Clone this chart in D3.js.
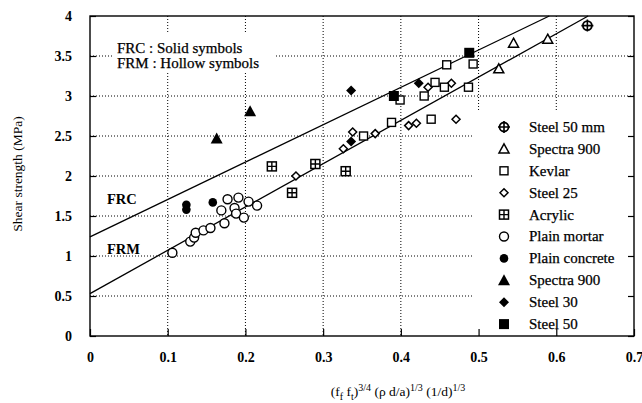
<!DOCTYPE html>
<html><head><meta charset="utf-8">
<script src="https://cdn.jsdelivr.net/npm/d3@7"></script>
<style>
body{margin:0;background:#fff;}
svg{display:block;}
</style></head>
<body><svg id="c" width="642" height="403" font-family="Liberation Serif"></svg>
<script>
// ---- data ----
const xTicks = [0,0.1,0.2,0.3,0.4,0.5,0.6,0.7];
const yTicks = [0,0.5,1,1.5,2,2.5,3,3.5,4];
const yTickLabels = ["0","0.5","1","1.5","2","2.5","3","3.5","4"];

const steel50mm = [[0.640,3.88]];
const spectraHollow = [[0.526,3.34],[0.545,3.66],[0.589,3.71]];
const kevlar = [[0.352,2.50],[0.388,2.67],[0.399,2.95],[0.430,3.00],[0.439,2.71],[0.444,3.17],[0.456,3.11],[0.459,3.39],[0.487,3.11],[0.493,3.40]];
const steel25 = [[0.265,2.00],[0.326,2.34],[0.338,2.55],[0.367,2.53],[0.410,2.63],[0.420,2.66],[0.435,3.11],[0.465,3.16],[0.471,2.71]];
const acrylic = [[0.234,2.12],[0.260,1.79],[0.290,2.15],[0.329,2.06]];
const plainMortar = [[0.106,1.04],[0.129,1.18],[0.134,1.23],[0.136,1.29],[0.146,1.32],[0.155,1.35],[0.173,1.41],[0.169,1.57],[0.177,1.71],[0.191,1.73],[0.186,1.60],[0.188,1.53],[0.198,1.48],[0.204,1.68],[0.215,1.63]];
const plainConcrete = [[0.124,1.64],[0.124,1.58],[0.158,1.67]];
const spectraSolid = [[0.163,2.47],[0.206,2.81]];
const steel30 = [[0.336,2.43],[0.336,3.07],[0.423,3.16]];
const steel50 = [[0.391,3.00],[0.488,3.54]];

const frcLine = [[0,1.24],[0.591,4]];
const frmLine = [[0,0.53],[0.641,4]];

const legendNames = ["Steel 50 mm","Spectra 900","Kevlar","Steel 25","Acrylic","Plain mortar","Plain concrete","Spectra 900","Steel 30","Steel 50"];
const legendKeys = ["cross","triH","sqH","diaH","acr","cirH","cirS","triS","diaS","sqS"];

// ---- layout ----
const FONT = "Liberation Serif";
const svg = d3.select("#c");
const L=90, R=634, T=16, B=336;
const x = d3.scaleLinear().domain([0,0.7]).range([L,R]);
const y = d3.scaleLinear().domain([0,4]).range([B,T]);

// grid
const g = svg.append("g");
g.selectAll(".hg").data(yTicks.filter(v=>v>0&&v<4)).join("line")
  .attr("x1",L).attr("x2",R).attr("y1",d=>y(d)).attr("y2",d=>y(d))
  .attr("stroke","#000").attr("stroke-width",1).attr("stroke-dasharray","1,2");
g.selectAll(".vg").data(xTicks.filter(v=>v>0&&v<0.7)).join("line")
  .attr("y1",T).attr("y2",B).attr("x1",d=>x(d)).attr("x2",d=>x(d))
  .attr("stroke","#000").attr("stroke-width",1).attr("stroke-dasharray","1,2");

// white boxes
svg.append("rect").attr("x",112).attr("y",33).attr("width",163).attr("height",40).attr("fill","#fff");
svg.append("rect").attr("x",473).attr("y",111).attr("width",R-473).attr("height",B-111).attr("fill","#fff");

// annotation
const ann = svg.append("g").attr("font-size",15).attr("font-family",FONT).attr("fill","#000")
  .attr("stroke","#000").attr("stroke-width",0.25);
ann.append("text").attr("x",117).attr("y",53).text("FRC  : Solid symbols");
ann.append("text").attr("x",117).attr("y",68).text("FRM  : Hollow symbols");

// regression lines
const lineGen = d3.line().x(d=>x(d[0])).y(d=>y(d[1]));
[frcLine,frmLine].forEach(l=>svg.append("path").attr("d",lineGen(l)).attr("fill","none").attr("stroke","#000").attr("stroke-width",1.3));
svg.append("text").attr("x",107).attr("y",204).attr("font-family",FONT).attr("font-weight","bold").attr("font-size",14.5).text("FRC");
svg.append("text").attr("x",107).attr("y",254).attr("font-family",FONT).attr("font-weight","bold").attr("font-size",14.5).text("FRM");

// symbol drawing
function sym(sel, key){
  sel.each(function(){
    const s = d3.select(this);
    if(key==="cross"){
      s.append("circle").attr("r",4.5).attr("fill","#fff").attr("stroke","#000").attr("stroke-width",1.8);
      s.append("path").attr("d","M-6,0H6M0,-6V6").attr("stroke","#000").attr("stroke-width",1.6);
    } else if(key==="triH"){
      s.append("path").attr("d","M0,-5L5,4H-5Z").attr("fill","#fff").attr("stroke","#000").attr("stroke-width",1.5);
    } else if(key==="triS"){
      s.append("path").attr("d","M0,-6L6,5H-6Z").attr("fill","#000");
    } else if(key==="sqH"){
      s.append("rect").attr("x",-4).attr("y",-4).attr("width",8).attr("height",8).attr("fill","#fff").attr("stroke","#000").attr("stroke-width",1.4);
    } else if(key==="sqS"){
      s.append("rect").attr("x",-5).attr("y",-5).attr("width",10).attr("height",10).attr("fill","#000");
    } else if(key==="diaH"){
      s.append("path").attr("d","M0,-4L4,0L0,4L-4,0Z").attr("fill","#fff").attr("stroke","#000").attr("stroke-width",1.5);
    } else if(key==="diaS"){
      s.append("path").attr("d","M0,-5L5,0L0,5L-5,0Z").attr("fill","#000");
    } else if(key==="acr"){
      s.append("rect").attr("x",-4.5).attr("y",-4.5).attr("width",9).attr("height",9).attr("fill","#fff").attr("stroke","#000").attr("stroke-width",1.5);
      s.append("path").attr("d","M-4.5,0H4.5M0,-4.5V4.5").attr("stroke","#000").attr("stroke-width",1.4);
    } else if(key==="cirH"){
      s.append("circle").attr("r",4.5).attr("fill","#fff").attr("stroke","#000").attr("stroke-width",1.4);
    } else if(key==="cirS"){
      s.append("circle").attr("r",4.3).attr("fill","#000");
    }
  });
}

const series = [
  [acrylic,"acr"],[plainMortar,"cirH"],[steel25,"diaH"],[kevlar,"sqH"],[spectraHollow,"triH"],[steel50mm,"cross"],
  [plainConcrete,"cirS"],[spectraSolid,"triS"],[steel30,"diaS"],[steel50,"sqS"]
];
series.forEach(([data,key])=>{
  svg.append("g").selectAll("g").data(data).join("g")
    .attr("transform",d=>`translate(${x(d[0])},${y(d[1])})`)
    .call(sel=>sym(sel,key));
});

// frame
svg.append("rect").attr("x",L).attr("y",T).attr("width",R-L).attr("height",B-T)
  .attr("fill","none").attr("stroke","#000").attr("stroke-width",1.4);

// axes (ticks inside)
const yAxisL = d3.axisLeft(y).tickValues(yTicks).tickSizeInner(-6).tickSizeOuter(0).tickFormat((d,i)=>yTickLabels[i]).tickPadding(18);
const yG = svg.append("g").attr("transform",`translate(${L},0)`).call(yAxisL);
const yAxisR = d3.axisRight(y).tickValues(yTicks).tickSizeInner(-6).tickSizeOuter(0).tickFormat("");
const yGR = svg.append("g").attr("transform",`translate(${R},0)`).call(yAxisR);
const xAxis = d3.axisBottom(x).tickValues(xTicks).tickSizeInner(-7).tickSizeOuter(0).tickFormat(d3.format(".1~f")).tickPadding(16);
const xG = svg.append("g").attr("transform",`translate(0,${B})`).call(xAxis);
[yG,yGR,xG].forEach(a=>{
  a.attr("font-family",FONT);
  a.select(".domain").remove();
  a.selectAll("line").attr("stroke","#000").attr("stroke-width",1.2);
  a.selectAll("text").attr("font-family",FONT).attr("font-size",14).attr("font-weight","bold").attr("fill","#000");
});
yG.selectAll("text").attr("dy","0.35em");

// axis titles
svg.append("text").attr("transform","translate(22,174) rotate(-90)").attr("text-anchor","middle")
  .attr("font-family",FONT).attr("font-size",13.5).text("Shear strength (MPa)");
const xt = svg.append("text").attr("x",398).attr("y",396).attr("text-anchor","middle")
  .attr("font-family",FONT).attr("font-size",13.5);
xt.append("tspan").text("(f");
xt.append("tspan").attr("font-size",10).attr("dy",4).text("f");
xt.append("tspan").attr("dy",-4).text(" f");
xt.append("tspan").attr("font-size",10).attr("dy",4).text("t");
xt.append("tspan").attr("dy",-4).text(")");
xt.append("tspan").attr("font-size",10).attr("dy",-5).text("3/4");
xt.append("tspan").attr("dy",5).text(" (\u03C1 d/a)");
xt.append("tspan").attr("font-size",10).attr("dy",-5).text("1/3");
xt.append("tspan").attr("dy",5).text(" (1/d)");
xt.append("tspan").attr("font-size",10).attr("dy",-5).text("1/3");

// legend
const lg = svg.append("g");
legendNames.forEach((name,i)=>{
  const yy = 127 + i*21.9;
  const s = lg.append("g").attr("transform",`translate(504,${yy})`);
  sym(s,legendKeys[i]);
  lg.append("text").attr("x",529).attr("y",yy).attr("dy","0.33em")
    .attr("font-family",FONT).attr("font-size",15)
    .attr("stroke","#000").attr("stroke-width",0.25).text(name);
});
</script></body></html>
